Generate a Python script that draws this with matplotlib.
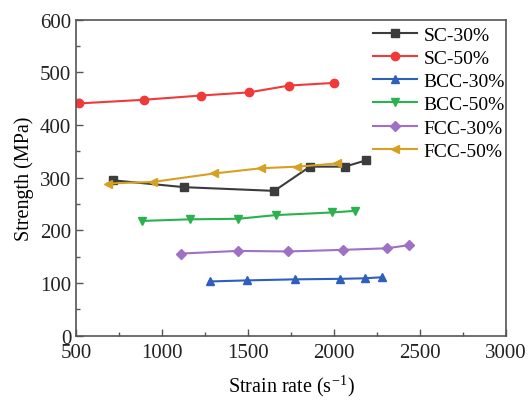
import matplotlib.pyplot as plt
from matplotlib.ticker import MultipleLocator

plt.rcParams["font.family"] = ["Liberation Serif", "DejaVu Serif"]
plt.rcParams["font.size"] = 14
plt.rcParams["mathtext.fontset"] = "stix"

# strain rate (1/s) and strength (MPa) for each lattice / volume fraction
sc30_rate = [717, 1130, 1653, 1860, 2064, 2186]
sc30_strength = [295, 282, 275, 321, 321, 333]

sc50_rate = [515, 895, 1225, 1505, 1740, 2000]
sc50_strength = [441, 448, 456, 462, 475, 480]

bcc30_rate = [1277, 1492, 1771, 2035, 2178, 2277]
bcc30_strength = [103, 105, 107, 108, 109, 111]

bcc50_rate = [886, 1163, 1442, 1661, 1987, 2120]
bcc50_strength = [218, 221, 222, 229, 234, 237]

fcc30_rate = [1112, 1440, 1734, 2050, 2306, 2438]
fcc30_strength = [156, 161, 160, 163, 166, 172]

fcc50_rate = [684, 948, 1302, 1577, 1787, 2019]
fcc50_strength = [289, 292, 308, 318, 321, 327]

series = [
    ("SC-30%", sc30_rate, sc30_strength, "#3c3c3c", "s"),
    ("SC-50%", sc50_rate, sc50_strength, "#f03a3a", "o"),
    ("BCC-30%", bcc30_rate, bcc30_strength, "#2e5fbd", "^"),
    ("BCC-50%", bcc50_rate, bcc50_strength, "#2bb14e", "v"),
    ("FCC-30%", fcc30_rate, fcc30_strength, "#a070c4", "D"),
    ("FCC-50%", fcc50_rate, fcc50_strength, "#d6a020", "<"),
]

fig = plt.figure(figsize=(5.29, 4.02), dpi=100)
ax = fig.add_axes([0.1437, 0.1624, 0.8128, 0.7861])

for name, x, y, c, m in series:
    ms = 5 if m == "D" else 6
    ax.plot(x, y, color=c, marker=m, markersize=ms, linewidth=1.5, label=name)

ax.set_xlim(500, 3000)
ax.set_ylim(0, 600)
ax.xaxis.set_major_locator(MultipleLocator(500))
ax.xaxis.set_minor_locator(MultipleLocator(250))
ax.yaxis.set_major_locator(MultipleLocator(100))
ax.yaxis.set_minor_locator(MultipleLocator(50))
ax.tick_params(which="both", direction="in", top=False, right=False, colors="#555555",
               labelcolor="#222222", labelsize=15)
ax.tick_params(which="major", length=5, width=1)
ax.tick_params(which="minor", length=3, width=1)
ax.tick_params(axis="x", pad=5)
ax.tick_params(axis="y", pad=3.5)
for sp in ax.spines.values():
    sp.set_color("#555555")
    sp.set_linewidth(1.2)

ax.set_xlabel("Strain rate (s$^{\\mathregular{-1}}$)", fontsize=14.5, labelpad=8)
ax.set_ylabel("Strength (MPa)", fontsize=14.5, labelpad=4)

ax.legend(loc="upper right", bbox_to_anchor=(1.015, 1.005), frameon=False,
          handlelength=2.3, handletextpad=0.3, labelspacing=0.29,
          borderaxespad=0, fontsize=14)

fig.savefig("out.png", dpi=100)
